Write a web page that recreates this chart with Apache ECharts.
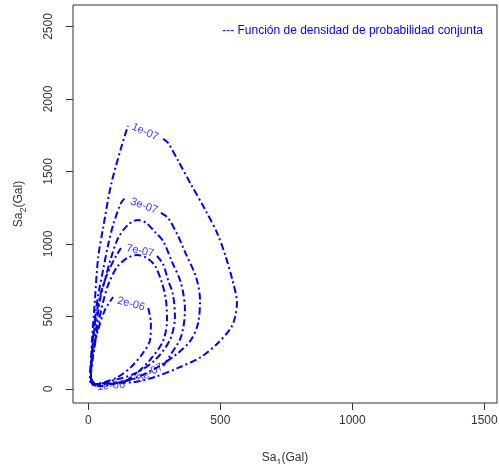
<!DOCTYPE html>
<html>
<head>
<meta charset="utf-8">
<script src="https://cdn.jsdelivr.net/npm/echarts@6/dist/echarts.min.js"></script>
<style>
  html, body { margin: 0; padding: 0; background: #fff; }
  #chart { width: 499px; height: 464px; }
</style>
</head>
<body>
<div id="chart"></div>
<script>
// 등고선 좌표 (Sa1, Sa2) - 그림에서 읽은 값
var lev1e07 = [[283,1724],[302,1697],[340,1575],[389,1410],[440,1245],[488,1075],[520,915],[546,750],
  [563,593],[556,497],[540,421],[491,317],[427,221],[340,145],[253,83],[177,48],[86,41],[25,34],
  [6,55],[10,200],[14,338],[25,614],[37,903],[56,1110],[86,1407],[124,1662],[150,1814]];
var lev3e07 = [[275,1214],[302,1179],[340,1055],[366,945],[408,772],[423,614],[416,455],[389,338],
  [340,248],[264,152],[188,83],[124,48],[44,21],[14,34],[10,131],[18,338],[29,545],[41,683],
  [56,821],[75,993],[94,1131],[124,1283],[139,1317]];
var lev5e07 = [[284,159],[309,228],[351,359],[366,545],[351,731],[317,876],[283,1021],[256,1076],
  [219,1145],[188,1166],[150,1131],[113,1041],[86,903],[63,752],[44,614],[29,407],[18,234],
  [10,97],[25,34],[82,34],[139,55],[188,76]];
var lev7e07 = [[260,917],[283,862],[302,752],[321,648],[328,497],[309,338],[253,200],[181,110],
  [101,62],[33,34],[10,76],[14,234],[22,407],[37,579],[56,717],[82,834],[105,917],[124,972]];
var lev1e06 = [[143,55],[188,117],[234,200],[283,331],[298,476],[294,614],[279,731],[253,848],
  [222,903],[184,924],[147,903],[109,841],[78,731],[56,600],[37,441],[22,269],[10,117],[14,34],[29,21]];
var lev2e06 = [[227,559],[237,455],[234,338],[207,248],[162,152],[113,83],[63,48],[25,34],
  [6,62],[10,166],[18,269],[37,407],[63,545],[94,634]];

var contourNames = ['1e-07', '3e-07', '5e-07', '7e-07', '1e-06', '2e-06'];
var contourData = [lev1e07, lev3e07, lev5e07, lev7e07, lev1e06, lev2e06];

// 등고선 라벨 위치와 기울기
var labelText = ['1e-07', '3e-07', '7e-07', '2e-06', '1e-06', '5e-07'];
var labelPos = [[215,1772],[211,1262],[196,952],[162,586],[86,21],[234,110]];
var labelAngle = [-24, -20, -12, -15, 5, 30];

var xTicks = [0, 500, 1000, 1500];
var yTicks = [0, 500, 1000, 1500, 2000, 2500];

var myChart = echarts.init(document.getElementById('chart'));
var font = 'Liberation Sans, Arial, sans-serif';
var blue = '#0000FF';

var series = contourData.map(function (d, i) {
  return {
    name: contourNames[i],
    type: 'line',
    data: d,
    smooth: 0.3,
    showSymbol: false,
    silent: true,
    lineStyle: { color: blue, width: 2, type: [7, 3, 2, 3] }
  };
});
series.push({
  type: 'scatter',
  symbolSize: 0,
  silent: true,
  data: labelPos.map(function (p, i) {
    return {
      value: p,
      label: { show: true, position: 'inside', formatter: labelText[i], rotate: labelAngle[i] }
    };
  }),
  label: { color: blue, fontSize: 11, fontFamily: font }
});

var nameRich = {
  a: { fontSize: 12, color: '#333', fontFamily: font, lineHeight: 16, verticalAlign: 'bottom' },
  s: { fontSize: 9, color: '#333', fontFamily: font, lineHeight: 12, verticalAlign: 'bottom', padding: [0, 0, -3, 0] }
};

var option = {
  animation: false,
  title: {
    text: '--- Función de densidad de probabilidad conjunta',
    right: 11,
    top: 20,
    textStyle: { color: blue, fontSize: 12, fontWeight: 'normal', fontFamily: font }
  },
  grid: {
    left: 73, right: 2, top: 5, bottom: 61,
    containLabel: false, outerBoundsMode: 'none',
    show: true, borderColor: '#333', borderWidth: 1
  },
  xAxis: {
    type: 'value', min: -58, max: 1548,
    axisLine: { show: false, onZero: false },
    splitLine: { show: false },
    axisTick: { show: true, inside: false, length: 7, customValues: xTicks, lineStyle: { color: '#333' } },
    axisLabel: {
      customValues: xTicks, margin: 12, color: '#333', fontSize: 12, fontFamily: font,
      formatter: function (v) { return String(v); }
    },
    name: '{a|Sa}{s|1}{a|(Gal)}',
    nameLocation: 'middle',
    nameGap: 45,
    nameTextStyle: { rich: nameRich }
  },
  yAxis: {
    type: 'value', min: -97, max: 2648,
    axisLine: { show: false, onZero: false },
    splitLine: { show: false },
    axisTick: { show: true, inside: false, length: 7, customValues: yTicks, lineStyle: { color: '#333' } },
    axisLabel: {
      customValues: yTicks, rotate: 90, margin: 18, color: '#333', fontSize: 12, fontFamily: font,
      formatter: function (v) { return String(v); }
    },
    name: '{a|Sa}{s|2}{a|(Gal)}',
    nameLocation: 'middle',
    nameRotate: 90,
    nameGap: 48,
    nameTextStyle: { rich: nameRich }
  },
  series: series
};
myChart.setOption(option);
window.addEventListener('resize', myChart.resize);
</script>
</body>
</html>
